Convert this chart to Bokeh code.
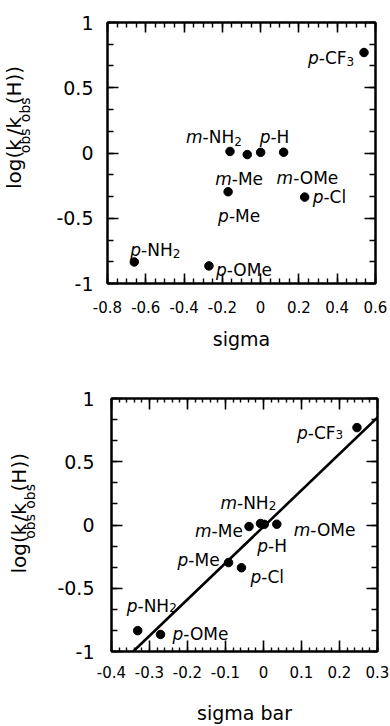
import math
from bokeh.plotting import figure
from bokeh.layouts import column, row
from bokeh.models import Range1d, LinearAxis, FixedTicker, ColumnDataSource
from bokeh.core.properties import value
from bokeh.embed import file_html
from bokeh.resources import INLINE

# ---------------- data ----------------
substituents = ["p-CF3", "m-NH2", "m-Me", "p-H", "m-OMe", "p-Me", "p-Cl", "p-NH2", "p-OMe"]
sigma = [0.54, -0.16, -0.07, 0.00, 0.12, -0.17, 0.23, -0.66, -0.27]
sigma_bar = [0.246, -0.008, -0.038, 0.002, 0.035, -0.092, -0.058, -0.331, -0.271]
log_krel = [0.77, 0.012, -0.012, 0.005, 0.006, -0.297, -0.338, -0.835, -0.865]
fit_sigma_bar = [-0.343, 0.30]
fit_log_krel = [-1.0, 0.85]

sigma_ticks = [-0.8, -0.6, -0.4, -0.2, 0, 0.2, 0.4, 0.6]
sigma_tick_labels = ["-0.8", "-0.6", "-0.4", "-0.2", "0", "0.2", "0.4", "0.6"]
sigma_bar_ticks = [-0.4, -0.3, -0.2, -0.1, 0, 0.1, 0.2, 0.3]
sigma_bar_tick_labels = ["-0.4", "-0.3", "-0.2", "-0.1", "0", "0.1", "0.2", "0.3"]
y_ticks = [-1, -0.5, 0, 0.5, 1]
y_tick_labels = ["-1", "-0.5", "0", "0.5", "1"]

# y-axis title pieces: (text, font px, subscript drop px)
y_title_pieces = [("log(k", 20, 0), ("obs", 14, 5), ("/k", 20, 0), ("obs", 14, 5), ("(H))", 20, 0)]

# label placement (screen px, baseline-left relative to the dot; y down)
offsets_top = [(-56, 5), (-44, -14), (-32, 24), (-1, -15), (-7, 26), (-10, 24), (8, 0), (-4, -12), (7, 4)]
offsets_bot = [(-60, 5), (-40, -20), (-54, 4), (-7, 22), (17, 6), (-51, -3), (9, 9), (-11, -25), (12, 0)]

FONT = "DejaVu Sans"
ASCENT = 0.928
W = {"p": .635, "m": .974, "-": .361, "C": .698, "F": .575, "N": .748, "H": .752, "M": .863,
     "e": .615, "O": .787, "l": .278, "o": .612, "g": .635, "(": .390, ")": .390, "k": .579,
     "/": .337, "b": .635, "s": .521, "2": .636, "3": .636}

FIG_H = 363
TITLE_W = 45


def tw(s, size):
    return sum(W.get(c, 0.6) for c in s) * size


def minor(start, end, step):
    n = int(round((end - start) / step))
    return [round(start + i * step, 4) for i in range(n + 1)]


def style_axis(ax, ticks, labels, minor_ticks, tick_in, minor_in, font_size, standoff, show):
    ax.ticker = FixedTicker(ticks=ticks, minor_ticks=minor_ticks)
    ax.major_tick_in = tick_in
    ax.major_tick_out = 0
    ax.minor_tick_in = minor_in
    ax.minor_tick_out = 0
    ax.axis_line_width = 2
    ax.axis_line_color = "black"
    ax.major_tick_line_width = 1.6
    ax.minor_tick_line_width = 1.4
    ax.major_tick_line_color = "black"
    ax.minor_tick_line_color = "black"
    ax.major_label_text_font = FONT
    if show:
        ax.major_label_overrides = {t: l for t, l in zip(ticks, labels)}
        ax.major_label_text_color = "black"
        ax.major_label_text_font_size = font_size
        ax.major_label_standoff = standoff
    else:
        ax.major_label_text_color = None
        ax.major_label_text_alpha = 0
        ax.major_label_text_font_size = "0px"
        ax.major_label_standoff = 0


def make_title_fig(baseline_x, center_y):
    t = figure(width=TITLE_W, height=FIG_H, x_range=Range1d(0, TITLE_W), y_range=Range1d(0, FIG_H),
               output_backend="svg", toolbar_location=None, x_axis_type=None, y_axis_type=None,
               min_border=0, outline_line_color=None)
    L = sum(tw(s, f) for s, f, _ in y_title_pieces)
    pos = FIG_H - center_y - L / 2
    big = dict(x=[], y=[], t=[])
    small = dict(x=[], y=[], t=[])
    for s, f, drop in y_title_pieces:
        d = small if drop else big
        # rotated text is anchored at the top of its font box
        d["x"].append(baseline_x + drop - ASCENT * f)
        d["y"].append(pos)
        d["t"].append(s)
        pos += tw(s, f)
    for d, f in ((big, 20), (small, 14)):
        t.text(x="x", y="y", text="t", source=ColumnDataSource(d), angle=math.pi / 2,
               text_font=value(FONT), text_font_size=f"{f}px", text_color="black",
               text_align="left", text_baseline="alphabetic")
    return t


def make_fig(xs, x_range, xticks, xlabels, xminor, xtitle, borders, xstand, title_stand,
             ystand, tick_len, offsets, sub_drop, line=None):
    left, right, top, bottom = borders
    p = figure(width=390 - TITLE_W, height=FIG_H, x_range=Range1d(*x_range), y_range=Range1d(-1, 1),
               output_backend="svg", toolbar_location=None,
               min_border_left=left - TITLE_W, min_border_right=right, min_border_top=top,
               min_border_bottom=bottom)
    p.grid.visible = False
    p.outline_line_color = "black"
    p.outline_line_width = 2

    ymin = minor(-1, 1, 1 / 6)
    xmaj_in, xmin_in = tick_len
    style_axis(p.xaxis[0], xticks, xlabels, xminor, xmaj_in, xmin_in, "15px", xstand, True)
    style_axis(p.yaxis[0], y_ticks, y_tick_labels, ymin, 11, 6, "19px", ystand, True)
    p.xaxis[0].axis_label = xtitle
    p.xaxis[0].axis_label_text_font = FONT
    p.xaxis[0].axis_label_text_font_style = "normal"
    p.xaxis[0].axis_label_text_font_size = "19px"
    p.xaxis[0].axis_label_text_color = "black"
    p.xaxis[0].axis_label_standoff = title_stand

    top_ax = LinearAxis()
    style_axis(top_ax, xticks, xlabels, xminor, xmaj_in, xmin_in, "15px", 0, False)
    p.add_layout(top_ax, "above")
    right_ax = LinearAxis()
    style_axis(right_ax, y_ticks, y_tick_labels, ymin, 11, 6, "19px", 0, False)
    p.add_layout(right_ax, "right")

    if line is not None:
        p.line(line[0], line[1], line_width=2.6, line_color="black")
    p.scatter(xs, log_krel, size=8.5, fill_color="black", line_color="black")

    # point labels: italic prefix, upright body, subscript digit
    it = dict(x=[], y=[], t=[], dx=[], dy=[])
    nm = dict(x=[], y=[], t=[], dx=[], dy=[])
    sb = dict(x=[], y=[], t=[], dx=[], dy=[])
    LS, SS = 17, 12
    for x, y, name, (dx, dy) in zip(xs, log_krel, substituents, offsets):
        pre, rest = name[0], name[1:]
        sub = ""
        if rest[-1].isdigit():
            sub, rest = rest[-1], rest[:-1]
        for d, t, ox, oy in ((it, pre, dx, dy), (nm, rest, dx + tw(pre, LS), dy)):
            d["x"].append(x); d["y"].append(y); d["t"].append(t); d["dx"].append(ox); d["dy"].append(oy)
        if sub:
            sb["x"].append(x); sb["y"].append(y); sb["t"].append(sub)
            sb["dx"].append(dx + tw(pre, LS) + tw(rest, LS)); sb["dy"].append(dy + sub_drop)
    for d, size, style in ((it, LS, "italic"), (nm, LS, "normal"), (sb, SS, "normal")):
        p.text(x="x", y="y", text="t", x_offset="dx", y_offset="dy", source=ColumnDataSource(d),
               text_font=value(FONT), text_font_style=style, text_font_size=f"{size}px",
               text_align="left", text_baseline="alphabetic", text_color="black")
    return p


t1 = make_title_fig(32.5, 153.5)
p1 = make_fig(sigma, (-0.8, 0.6), sigma_ticks, sigma_tick_labels, minor(-0.8, 0.6, 0.05), "sigma",
              (107, 15, 22, 80), 17, 12, 14, (10, 5), offsets_top, 4)
t2 = make_title_fig(37, 536 - FIG_H)
p2 = make_fig(sigma_bar, (-0.4, 0.3), sigma_bar_ticks, sigma_bar_tick_labels, minor(-0.4, 0.3, 0.02),
              "sigma bar", (111, 13, 35, 66), 14, 21, 17, (11, 4), offsets_bot, 2,
              line=(fit_sigma_bar, fit_log_krel))

layout = column(row(t1, p1, spacing=0), row(t2, p2, spacing=0), spacing=0)
open("out.html", "w").write(file_html(layout, INLINE))
